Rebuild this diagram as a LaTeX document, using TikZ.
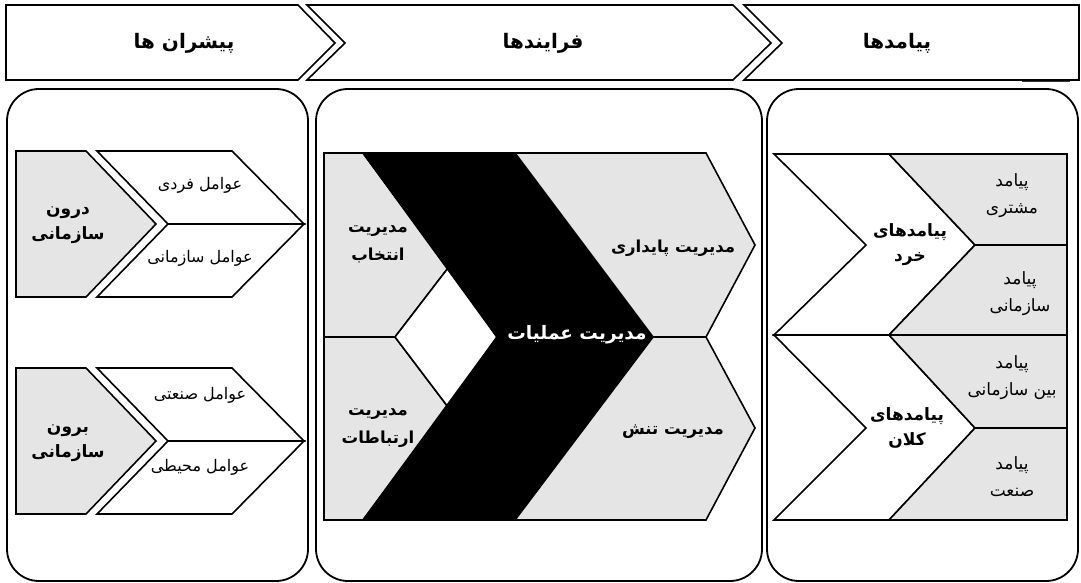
\documentclass[tikz,border=0pt]{standalone}
\usepackage{fontspec}
\newfontfamily\fafont[Script=Arabic]{DejaVu Sans}
\TeXXeTstate=1
\newcommand{\fa}[1]{\beginR #1\endR}
\usetikzlibrary{positioning}

\begin{document}
\begin{tikzpicture}[x=1pt, y=-1pt,
  every node/.style={font=\fafont\fontsize{17}{27}\selectfont, align=center, inner sep=1pt},
  shp/.style={draw, line width=1.6pt, line join=miter},
  gshp/.style={shp, fill=gray!20},
  panel/.style={draw, line width=1.8pt, rounded corners=32pt},
  hdr/.style={font=\fafont\bfseries\fontsize{20}{24}\selectfont},
  btxt/.style={font=\fafont\bfseries\fontsize{17}{25}\selectfont},
  ltxt/.style={font=\fafont\fontsize{16}{20}\selectfont},
  mtxt/.style={font=\fafont\bfseries\fontsize{16.5}{28}\selectfont}
]
\useasboundingbox (0,0) rectangle (1081,583);

%% ---- Header band ----
\draw[shp] (6,5) -- (298,5) -- (335,43) -- (298,80) -- (6,80) -- cycle;
\draw[shp] (307,5) -- (733,5) -- (771,43) -- (733,80) -- (307,80) -- (345,43) -- cycle;
\draw[shp] (744,5) -- (1079,5) -- (1079,80) -- (744,80) -- (782,43) -- cycle;
\draw[line width=1pt, gray!40!black] (1022,82) -- (1070,82);
\node[hdr] (drv) at (184,43) {\fa{پیشران ها}};
\node[hdr] (proc) at (543,43) {\fa{فرایندها}};
\node[hdr] (outc) at (897,43) {\fa{پیامدها}};

%% ---- Panels ----
\draw[panel] (7,89) rectangle (308,581);
\draw[panel] (316,89) rectangle (762,581);
\draw[panel] (767,89) rectangle (1078,581);

%% 1. Drivers (left panel)
\draw[gshp] (16,151) -- (86,151) -- (156,224) -- (86,297) -- (16,297) -- cycle;
\draw[shp] (97,151) -- (232,151) -- (304,224) -- (168,224) -- cycle;
\draw[shp] (168,224) -- (304,224) -- (232,297) -- (97,297) -- cycle;
\node[btxt] (inorg) at (68,225) {\fa{درون}\\\fa{سازمانی}};
\node[ltxt] (indiv) at (200,185) {\fa{عوامل فردی}};
\node[ltxt] (orgf) at (200,258) {\fa{عوامل سازمانی}};

\draw[gshp] (16,368) -- (86,368) -- (156,441) -- (86,514) -- (16,514) -- cycle;
\draw[shp] (97,368) -- (232,368) -- (304,441) -- (168,441) -- cycle;
\draw[shp] (168,441) -- (304,441) -- (232,514) -- (97,514) -- cycle;
\node[btxt] (outorg) at (68,443) {\fa{برون}\\\fa{سازمانی}};
\node[ltxt] (indus) at (200,395) {\fa{عوامل صنعتی}};
\node[ltxt] (envf) at (200,467) {\fa{عوامل محیطی}};

%% 2. Processes (middle panel)
\draw[gshp] (324,153) -- (363,153) -- (448,268) -- (395,337) -- (324,337) -- cycle;
\draw[gshp] (324,337) -- (395,337) -- (448,407) -- (363,520) -- (324,520) -- cycle;
\draw[shp, fill=white] (395,337) -- (448,268) -- (497,337) -- (448,407) -- cycle;
\draw[shp, fill=black] (363,153) -- (515,153) -- (653,337) -- (515,520) -- (363,520) -- (497,337) -- cycle;
\draw[gshp] (515,153) -- (706,153) -- (755,245) -- (706,337) -- (653,337) -- cycle;
\draw[gshp] (653,337) -- (706,337) -- (755,428) -- (706,520) -- (515,520) -- cycle;
\node[mtxt] (sel) at (378,244) {\fa{مدیریت}\\\fa{انتخاب}};
\node[mtxt] (comm) at (378,428) {\fa{مدیریت}\\\fa{ارتباطات}};
\node[mtxt] (sust) at (673,248) {\fa{مدیریت پایداری}};
\node[mtxt] (tens) at (673,432) {\fa{مدیریت تنش}};
\node[btxt, font=\fafont\bfseries\fontsize{18.5}{22}\selectfont, text=white] (ops) at (577,335) {\fa{مدیریت عملیات}};

%% 3. Outcomes (right panel)
\draw[shp] (774,154) -- (889,154) -- (975,245) -- (889,335) -- (774,335) -- (866,245) -- cycle;
\draw[gshp] (889,154) -- (1067,154) -- (1067,245) -- (975,245) -- cycle;
\draw[gshp] (975,245) -- (1067,245) -- (1067,335) -- (889,335) -- cycle;
\draw[shp] (774,335) -- (889,335) -- (975,428) -- (889,520) -- (774,520) -- (866,428) -- cycle;
\draw[gshp] (889,335) -- (1067,335) -- (1067,428) -- (975,428) -- cycle;
\draw[gshp] (975,428) -- (1067,428) -- (1067,520) -- (889,520) -- cycle;
\node[btxt] (micro) at (910,245) {\fa{پیامدهای}\\\fa{خرد}};
\node[btxt] (macro) at (907,428) {\fa{پیامدهای}\\\fa{کلان}};
\node (cust) at (1012,196) {\fa{پیامد}\\\fa{مشتری}};
\node (orgo) at (1020,294) {\fa{پیامد}\\\fa{سازمانی}};
\node (inter) at (1012,378) {\fa{پیامد}\\\fa{بین سازمانی}};
\node (indo) at (1012,477) {\fa{پیامد}\\\fa{صنعت}};

\end{tikzpicture}
\end{document}
